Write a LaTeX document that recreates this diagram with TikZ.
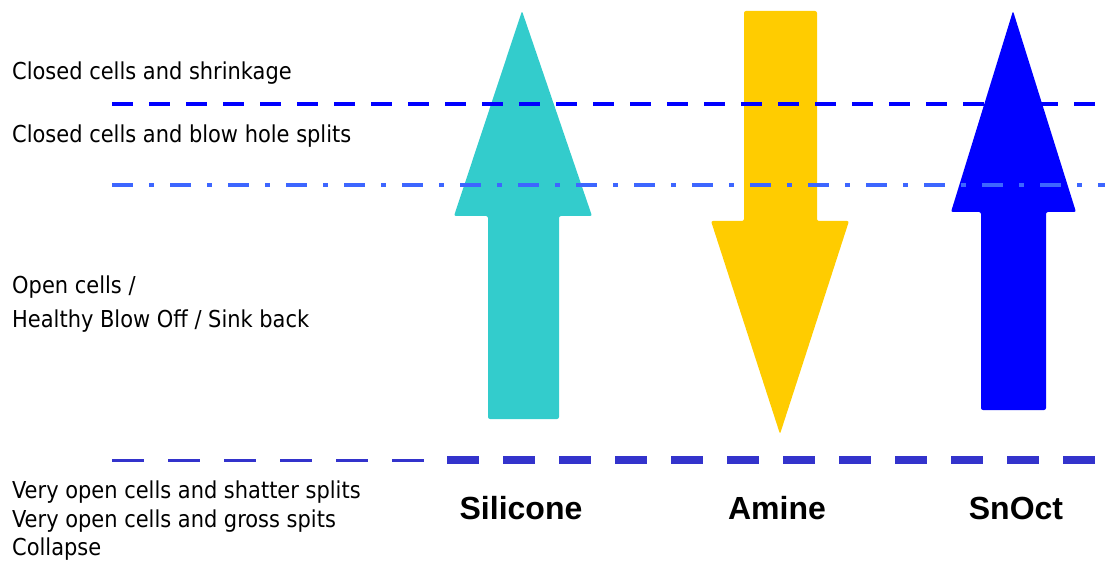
\documentclass[tikz,border=0pt]{standalone}
\usepackage{fontspec}
\setmainfont{DejaVu Sans Condensed}
\newfontfamily\labfont{Liberation Sans}
\definecolor{tealA}{HTML}{33CCCC}
\definecolor{amberA}{HTML}{FFCC00}
\definecolor{blueA}{HTML}{0000FF}
\definecolor{lineA}{HTML}{0000FF}
\definecolor{lineB}{HTML}{3D66FF}
\definecolor{lineC}{HTML}{3333CC}
\tikzset{
  lefttext/.style={anchor=base west, inner sep=0pt, font=\fontsize{23.3}{27}\selectfont},
  labtext/.style={anchor=base, inner sep=0pt, font=\labfont\bfseries\fontsize{32}{38}\selectfont},
  bigarrow/.style={rounded corners=2pt, draw=none},
}
\begin{document}
\begin{tikzpicture}[x=1pt,y=-1pt]
\useasboundingbox (0,0) rectangle (1105,561);
% arrows
\fill[bigarrow, tealA] (522,11) -- (592,216) -- (559,216) -- (559,419) -- (488,419) -- (488,216) -- (454,216) -- cycle;
\fill[bigarrow, amberA] (744,11) -- (817,11) -- (817,221) -- (849,221) -- (780,434) -- (711,221) -- (744,221) -- cycle;
\fill[bigarrow, blueA] (1013,11) -- (1076,212) -- (1046,212) -- (1046,410) -- (981,410) -- (981,212) -- (951,212) -- cycle;
% level lines
\coordinate (l1a) at (112,104); \coordinate (l1b) at (1100,104);
\coordinate (l2a) at (112,185); \coordinate (l2b) at (1105,185);
\coordinate (l3a) at (112,460); \coordinate (l3b) at (424,460);
\coordinate (l4a) at (447,460); \coordinate (l4b) at (1100,460);
\draw[lineA, line width=4pt, dash pattern=on 21pt off 16pt] (l1a) -- (l1b);
\draw[lineB, line width=4pt, dash pattern=on 21pt off 16pt on 5pt off 16pt] (l2a) -- (l2b);
\draw[lineC, line width=3pt, dash pattern=on 32pt off 24pt] (l3a) -- (l3b);
\draw[lineC, line width=8pt, dash pattern=on 32pt off 24pt] (l4a) -- (l4b);
% left texts
\node[lefttext] (t1) at (12,80) {Closed cells and shrinkage};
\node[lefttext] (t2) at (12,143) {Closed cells and blow hole splits};
\node[lefttext] (t3) at (12,293) {Open cells /};
\node[lefttext] (t4) at (12,327) {Healthy Blow Off / Sink back};
\node[lefttext] (t5) at (12,498) {Very open cells and shatter splits};
\node[lefttext] (t6) at (12,527) {Very open cells and gross spits};
\node[lefttext] (t7) at (12,555) {Collapse};
% labels
\node[labtext] (s1) at (521,519) {Silicone};
\node[labtext] (s2) at (777,519) {Amine};
\node[labtext] (s3) at (1016,519) {SnOct};
\end{tikzpicture}
\end{document}
